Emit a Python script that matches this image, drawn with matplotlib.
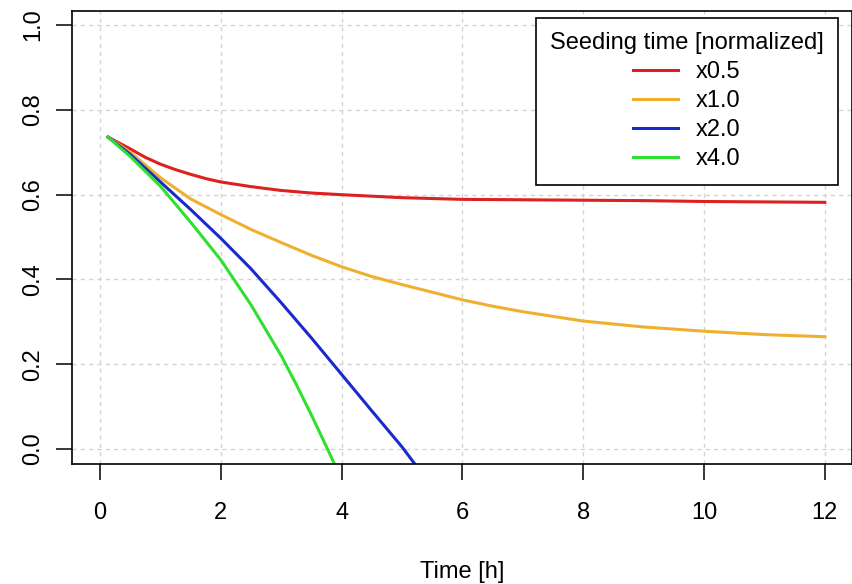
import matplotlib
matplotlib.use("Agg")
import matplotlib.pyplot as plt

plt.rcParams['font.family'] = ['Liberation Sans', 'DejaVu Sans']

# simulated fraction vs time
t_05 = [0.13, 0.5, 0.75, 1.0, 1.25, 1.5, 1.75, 2.0, 2.5, 3.0, 3.5, 4.0, 5.0, 6.0, 7.0, 8.0, 9.0, 10.0, 11.0, 12.0]
y_05 = [0.736, 0.708, 0.688, 0.672, 0.659, 0.648, 0.638, 0.630, 0.619, 0.610, 0.604, 0.600, 0.593, 0.589, 0.588, 0.587, 0.586, 0.584, 0.583, 0.582]

t_10 = [0.13, 0.5, 1.0, 1.5, 2.0, 2.5, 3.0, 3.5, 4.0, 4.5, 5.0, 5.5, 6.0, 6.5, 7.0, 8.0, 9.0, 10.0, 11.0, 12.0]
y_10 = [0.736, 0.700, 0.640, 0.590, 0.553, 0.518, 0.487, 0.457, 0.430, 0.407, 0.388, 0.370, 0.352, 0.337, 0.324, 0.302, 0.288, 0.278, 0.270, 0.265]

t_20 = [0.13, 0.5, 1.0, 1.5, 2.0, 2.5, 3.0, 3.5, 4.0, 4.5, 5.0, 5.2]
y_20 = [0.736, 0.695, 0.630, 0.565, 0.497, 0.425, 0.345, 0.262, 0.176, 0.090, 0.005, -0.033]

t_40 = [0.13, 0.5, 1.0, 1.5, 2.0, 2.5, 3.0, 3.25, 3.5, 3.75, 3.88]
y_40 = [0.736, 0.690, 0.620, 0.535, 0.446, 0.340, 0.220, 0.152, 0.080, 0.005, -0.035]

labels = ['x0.5', 'x1.0', 'x2.0', 'x4.0']
colors = ['#dd2020', '#efb030', '#1a2acc', '#30e030']

xticks = [0, 2, 4, 6, 8, 10, 12]
yticks = [0.0, 0.2, 0.4, 0.6, 0.8, 1.0]

fig = plt.figure(figsize=(8.52, 5.84), dpi=100)
ax = fig.add_axes([71.7/852, 120.5/584, (852-71.7)/852, (463.5-10.7)/584])

for tt, yy, c, lab in zip([t_05, t_10, t_20, t_40], [y_05, y_10, y_20, y_40], colors, labels):
    ax.plot(tt, yy, color=c, lw=2.2, label=lab)

ax.set_xlim(-0.47, 12.45)
ax.set_ylim(-0.034, 1.034)
ax.set_xticks(xticks)
ax.set_xticklabels([str(v) for v in xticks])
ax.set_yticks(yticks)
ax.set_yticklabels(['%.1f' % v for v in yticks], rotation=90, va='center')
ax.grid(True, color='#d3d3d3', linestyle=(0, (3, 3)), lw=1.0)
ax.set_axisbelow(True)

for s in ax.spines.values():
    s.set_linewidth(1.2)
ax.tick_params(length=11.5, width=1.1, labelsize=17)
ax.tick_params(axis='x', pad=16)
ax.tick_params(axis='y', pad=8)
ax.set_xlabel('Time [h]', fontsize=17, labelpad=27)

leg = ax.legend(title='Seeding time [normalized]', loc='upper right', bbox_to_anchor=(0.982, 0.984),
                borderaxespad=0, fontsize=17, title_fontsize=17, frameon=True, fancybox=False,
                edgecolor='black', handlelength=1.9, handletextpad=0.75, labelspacing=0.3,
                borderpad=0.6, alignment='center')
leg.get_frame().set_linewidth(1.2)
leg.get_frame().set_alpha(1)

fig.savefig('out.png', dpi=100)
